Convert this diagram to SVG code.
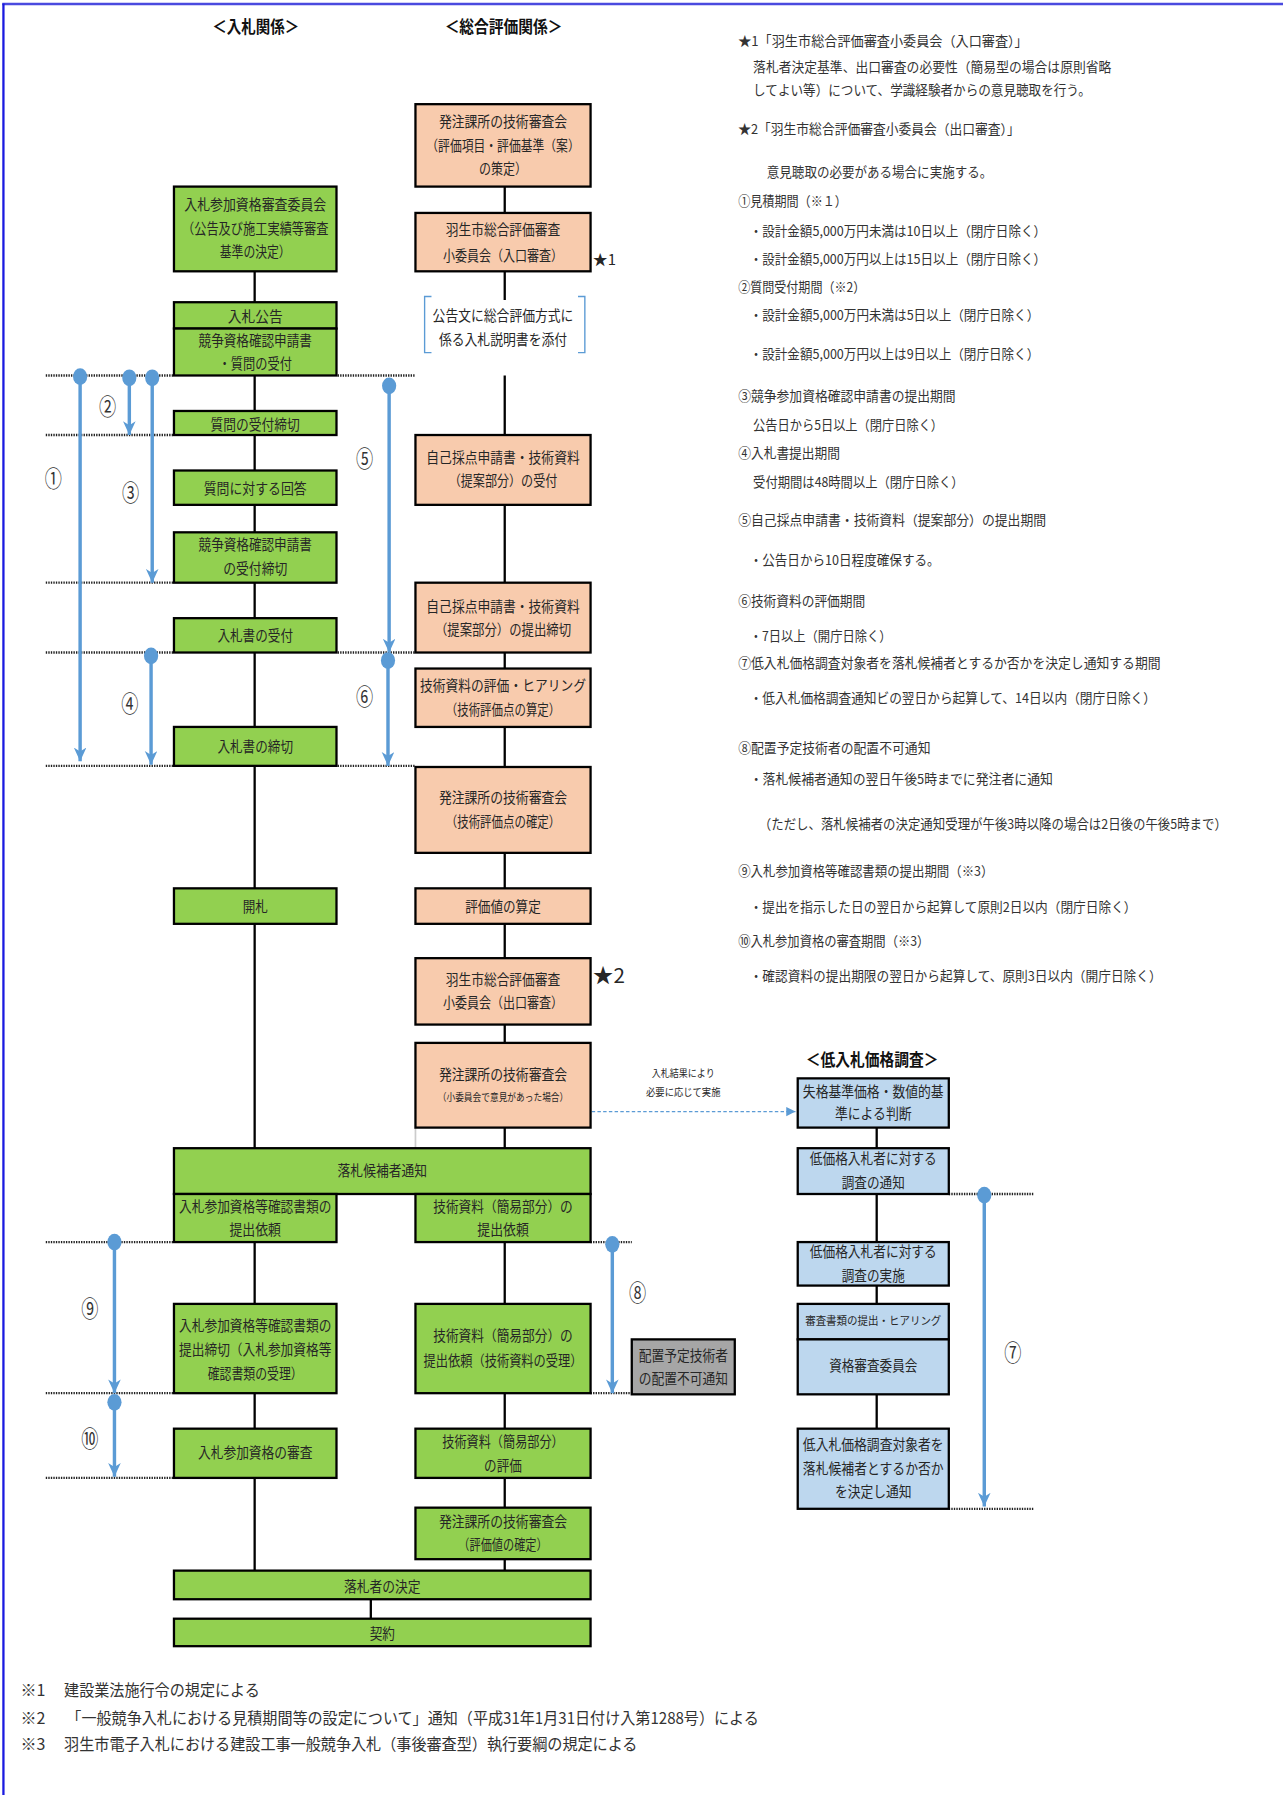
<svg xmlns="http://www.w3.org/2000/svg" width="1283" height="1795" viewBox="0 0 1283 1795">
<style>
.t{font-family:"Noto Sans CJK JP","Noto Sans CJK SC",sans-serif;fill:#262626;dominant-baseline:central}
.bx{font-size:12.5px;text-anchor:middle}
.sm{font-size:9px;text-anchor:middle}
.r{font-size:12px;fill:#333}
.f{font-size:14px;fill:#333}
.h{font-size:14.5px;font-weight:bold;text-anchor:middle;fill:#111}
.n{font-size:20px;text-anchor:middle;fill:#333}
.g{fill:#92D050;stroke:#000;stroke-width:2}
.o{fill:#F8CBAD;stroke:#000;stroke-width:2}
.b{fill:#BDD7EE;stroke:#000;stroke-width:2}
.k{fill:#A6A6A6;stroke:#000;stroke-width:2}
.ln{stroke:#000;stroke-width:2;fill:none}
.dot{stroke:#222;stroke-width:2;stroke-dasharray:1.2 1;fill:none}
.ar{stroke:#5B9BD5;stroke-width:3;fill:none;marker-start:url(#st);marker-end:url(#ah)}
.br{stroke:#5B9BD5;stroke-width:1.2;fill:none}
</style>
<defs>
<marker id="ah" markerUnits="userSpaceOnUse" markerWidth="13" markerHeight="12" refX="12" refY="5.5" orient="auto"><path d="M0,0 L12,5.5 L0,11 L3.5,5.5 z" fill="#5B9BD5"/></marker>
<marker id="st" markerUnits="userSpaceOnUse" viewBox="-8 -8 16 16" markerWidth="16" markerHeight="16" refX="0" refY="0" orient="auto"><ellipse cx="0" cy="0" rx="7.3" ry="6.2" fill="#5B9BD5"/></marker>
<marker id="ah2" markerUnits="userSpaceOnUse" markerWidth="9" markerHeight="9" refX="8" refY="4" orient="auto"><path d="M0,0 L8,4 L0,8 z" fill="#5B9BD5"/></marker>
</defs>
<rect x="0" y="0" width="1283" height="1795" fill="#fff"/>
<g transform="scale(1.14451 1.14477)">
<g id="frame">
<line x1="2" y1="3.5" x2="1122" y2="3.5" stroke="#4a4adf" stroke-width="2"/>
<line x1="3" y1="3" x2="3" y2="1568" stroke="#1a1ae0" stroke-width="2"/>
</g>
<g id="connectors">
<path class="dot" d="M40,328H152 M295,328H363 M40,380H152 M40,509H152 M40,570H152 M295,570H363 M40,669H152 M295,669H363 M40,1085H152 M516,1085H552 M40,1217H152 M516,1217H552 M40,1291H152 M829,1043H903 M829,1318H903"/>
<path class="ln" d="M222.5,237V264 M222.5,328V359 M222.5,380V411 M222.5,441V465 M222.5,509V540 M222.5,570V635 M222.5,669V776 M222.5,807V1003 M222.5,1085V1139 M222.5,1217V1248 M222.5,1291V1372 M441,163V186 M441,237V262 M441,328V380 M441,441V509 M441,570V584 M441,635V670 M441,745V776 M441,807V837 M441,895V911 M441,985V1003 M441,1085V1139 M441,1217V1248 M441,1291V1317 M441,1362V1372 M324,1397V1414 M766,985V1003 M766,1043V1085 M766,1123V1139 M766,1218V1248"/>
<line x1="363" y1="985" x2="363" y2="1003" stroke="#ccc" stroke-width="1.5"/>
<path class="br" d="M377,259H371V308H377 M505,259H511V308H505"/>
<line x1="517" y1="971" x2="695" y2="971" stroke="#5B9BD5" stroke-width="1.2" stroke-dasharray="3 2" marker-end="url(#ah2)"/>
<line class="ar" x1="70" y1="329" x2="70" y2="665"/>
<line class="ar" x1="113" y1="330" x2="113" y2="380"/>
<line class="ar" x1="133" y1="330" x2="133" y2="509"/>
<line class="ar" x1="340" y1="337" x2="340" y2="570"/>
<line class="ar" x1="132" y1="573" x2="132" y2="668"/>
<line class="ar" x1="339" y1="577" x2="339" y2="669"/>
<line class="ar" x1="100" y1="1085" x2="100" y2="1217"/>
<line class="ar" x1="100" y1="1225" x2="100" y2="1290"/>
<line class="ar" x1="535" y1="1087" x2="535" y2="1217"/>
<line class="ar" x1="860" y1="1044" x2="860" y2="1316"/>
<text class="t n" x="46.5" y="417" textLength="15" lengthAdjust="spacingAndGlyphs">①</text>
<text class="t n" x="94" y="354" textLength="15" lengthAdjust="spacingAndGlyphs">②</text>
<text class="t n" x="114" y="429" textLength="15" lengthAdjust="spacingAndGlyphs">③</text>
<text class="t n" x="113.5" y="613" textLength="15" lengthAdjust="spacingAndGlyphs">④</text>
<text class="t n" x="318.5" y="399.5" textLength="15" lengthAdjust="spacingAndGlyphs">⑤</text>
<text class="t n" x="318.5" y="607" textLength="15" lengthAdjust="spacingAndGlyphs">⑥</text>
<text class="t n" x="885" y="1180" textLength="15" lengthAdjust="spacingAndGlyphs">⑦</text>
<text class="t n" x="557" y="1128" textLength="15" lengthAdjust="spacingAndGlyphs">⑧</text>
<text class="t n" x="78.5" y="1141.5" textLength="15" lengthAdjust="spacingAndGlyphs">⑨</text>
<text class="t n" x="78.5" y="1255" textLength="15" lengthAdjust="spacingAndGlyphs">⑩</text>
<text class="t" x="597" y="937.5" font-size="8.5" text-anchor="middle" fill="#444" textLength="55" lengthAdjust="spacingAndGlyphs">入札結果により</text>
<text class="t" x="597" y="954" font-size="8.5" text-anchor="middle" fill="#444" textLength="65" lengthAdjust="spacingAndGlyphs">必要に応じて実施</text>
</g>
<g id="titles">
<text class="t h" x="223.5" y="23" textLength="76" lengthAdjust="spacingAndGlyphs">＜入札関係＞</text>
<text class="t h" x="440" y="23" textLength="103" lengthAdjust="spacingAndGlyphs">＜総合評価関係＞</text>
<text class="t h" x="762" y="925" textLength="116" lengthAdjust="spacingAndGlyphs">＜低入札価格調査＞</text>
</g>
<g id="n-shikaku-iinkai"><rect class="g" x="152" y="163" width="142" height="74"/>
<text class="t bx" x="223" y="178" textLength="124" lengthAdjust="spacingAndGlyphs">入札参加資格審査委員会</text>
<text class="t bx" x="223" y="199" textLength="128" lengthAdjust="spacingAndGlyphs">（公告及び施工実績等審査</text>
<text class="t bx" x="223" y="219" textLength="62" lengthAdjust="spacingAndGlyphs">基準の決定）</text></g>
<g id="n-koukoku"><rect class="g" x="152" y="264" width="142" height="23"/><rect class="g" x="152" y="287" width="142" height="41"/>
<text class="t bx" x="223" y="275.5" textLength="48" lengthAdjust="spacingAndGlyphs">入札公告</text>
<text class="t bx" x="223" y="297" textLength="99" lengthAdjust="spacingAndGlyphs">競争資格確認申請書</text>
<text class="t bx" x="223" y="317" textLength="64" lengthAdjust="spacingAndGlyphs">・質問の受付</text></g>
<g id="n-shitsumon-shimekiri"><rect class="g" x="152" y="359" width="142" height="21"/>
<text class="t bx" x="223" y="370" textLength="78" lengthAdjust="spacingAndGlyphs">質問の受付締切</text></g>
<g id="n-kaitou"><rect class="g" x="152" y="411" width="142" height="30"/>
<text class="t bx" x="223" y="426" textLength="90" lengthAdjust="spacingAndGlyphs">質問に対する回答</text></g>
<g id="n-shinsei-shimekiri"><rect class="g" x="152" y="465" width="142" height="44"/>
<text class="t bx" x="223" y="475" textLength="99" lengthAdjust="spacingAndGlyphs">競争資格確認申請書</text>
<text class="t bx" x="223" y="495.5" textLength="56" lengthAdjust="spacingAndGlyphs">の受付締切</text></g>
<g id="n-nyusatsusho-uketsuke"><rect class="g" x="152" y="540" width="142" height="30"/>
<text class="t bx" x="223" y="554" textLength="66" lengthAdjust="spacingAndGlyphs">入札書の受付</text></g>
<g id="n-nyusatsusho-shimekiri"><rect class="g" x="152" y="635" width="142" height="34"/>
<text class="t bx" x="223" y="651" textLength="66" lengthAdjust="spacingAndGlyphs">入札書の締切</text></g>
<g id="n-kaisatsu"><rect class="g" x="152" y="776" width="142" height="31"/>
<text class="t bx" x="223" y="791" textLength="22" lengthAdjust="spacingAndGlyphs">開札</text></g>
<g id="n-kouhosha-tsuchi"><rect class="g" x="152" y="1003" width="364" height="40"/>
<text class="t bx" x="334" y="1022" textLength="78" lengthAdjust="spacingAndGlyphs">落札候補者通知</text></g>
<g id="n-kakunin-irai"><rect class="g" x="152" y="1043" width="142" height="42"/>
<text class="t bx" x="223" y="1053" textLength="133" lengthAdjust="spacingAndGlyphs">入札参加資格等確認書類の</text>
<text class="t bx" x="223" y="1073" textLength="45" lengthAdjust="spacingAndGlyphs">提出依頼</text></g>
<g id="n-kan-i-irai"><rect class="g" x="363" y="1043" width="153" height="42"/>
<text class="t bx" x="439.5" y="1053" textLength="122" lengthAdjust="spacingAndGlyphs">技術資料（簡易部分）の</text>
<text class="t bx" x="439.5" y="1073" textLength="45" lengthAdjust="spacingAndGlyphs">提出依頼</text></g>
<g id="n-kakunin-shimekiri"><rect class="g" x="152" y="1139" width="142" height="78"/>
<text class="t bx" x="223" y="1157" textLength="133" lengthAdjust="spacingAndGlyphs">入札参加資格等確認書類の</text>
<text class="t bx" x="223" y="1178" textLength="133" lengthAdjust="spacingAndGlyphs">提出締切（入札参加資格等</text>
<text class="t bx" x="223" y="1199" textLength="83" lengthAdjust="spacingAndGlyphs">確認書類の受理）</text></g>
<g id="n-kan-i-juri"><rect class="g" x="363" y="1139" width="153" height="78"/>
<text class="t bx" x="439.5" y="1166" textLength="122" lengthAdjust="spacingAndGlyphs">技術資料（簡易部分）の</text>
<text class="t bx" x="439.5" y="1188" textLength="139" lengthAdjust="spacingAndGlyphs">提出依頼（技術資料の受理）</text></g>
<g id="n-haichi-fuka"><rect class="k" x="552" y="1170" width="90" height="48"/>
<text class="t bx" x="597" y="1183" textLength="78" lengthAdjust="spacingAndGlyphs">配置予定技術者</text>
<text class="t bx" x="597" y="1203" textLength="78" lengthAdjust="spacingAndGlyphs">の配置不可通知</text></g>
<g id="n-shikaku-shinsa"><rect class="g" x="152" y="1248" width="142" height="43"/>
<text class="t bx" x="223" y="1268" textLength="100" lengthAdjust="spacingAndGlyphs">入札参加資格の審査</text></g>
<g id="n-kan-i-hyouka"><rect class="g" x="363" y="1248" width="153" height="43"/>
<text class="t bx" x="439.5" y="1258" textLength="106" lengthAdjust="spacingAndGlyphs">技術資料（簡易部分）</text>
<text class="t bx" x="439.5" y="1279" textLength="33" lengthAdjust="spacingAndGlyphs">の評価</text></g>
<g id="n-hyoukachi-kakutei"><rect class="g" x="363" y="1317" width="153" height="45"/>
<text class="t bx" x="439.5" y="1328" textLength="112" lengthAdjust="spacingAndGlyphs">発注課所の技術審査会</text>
<text class="t bx" x="439.5" y="1348" textLength="78" lengthAdjust="spacingAndGlyphs">（評価値の確定）</text></g>
<g id="n-rakusatsusha"><rect class="g" x="152" y="1372" width="364" height="25"/>
<text class="t bx" x="334" y="1385" textLength="67" lengthAdjust="spacingAndGlyphs">落札者の決定</text></g>
<g id="n-keiyaku"><rect class="g" x="152" y="1414" width="364" height="24"/>
<text class="t bx" x="334" y="1426" textLength="22" lengthAdjust="spacingAndGlyphs">契約</text></g>
<g id="n-gijutsu-sakutei"><rect class="o" x="363" y="91" width="153" height="72"/>
<text class="t bx" x="439.5" y="105" textLength="112" lengthAdjust="spacingAndGlyphs">発注課所の技術審査会</text>
<text class="t bx" x="439.5" y="126" textLength="134" lengthAdjust="spacingAndGlyphs">（評価項目・評価基準（案）</text>
<text class="t bx" x="439.5" y="146" textLength="42" lengthAdjust="spacingAndGlyphs">の策定）</text></g>
<g id="n-iriguchi"><rect class="o" x="363" y="186" width="153" height="51"/>
<text class="t bx" x="439.5" y="200" textLength="100" lengthAdjust="spacingAndGlyphs">羽生市総合評価審査</text>
<text class="t bx" x="439.5" y="222" textLength="105" lengthAdjust="spacingAndGlyphs">小委員会（入口審査）</text>
<text class="t" x="518" y="226" font-size="13" fill="#111">★1</text></g>
<g id="n-setsumeisho">
<text class="t bx" x="439.5" y="274.5" fill="#404040" textLength="123" lengthAdjust="spacingAndGlyphs">公告文に総合評価方式に</text>
<text class="t bx" x="439.5" y="296" fill="#404040" textLength="112" lengthAdjust="spacingAndGlyphs">係る入札説明書を添付</text></g>
<g id="n-jiko-uketsuke"><rect class="o" x="363" y="380" width="153" height="61"/>
<text class="t bx" x="439.5" y="399" textLength="134" lengthAdjust="spacingAndGlyphs">自己採点申請書・技術資料</text>
<text class="t bx" x="439.5" y="419" textLength="95" lengthAdjust="spacingAndGlyphs">（提案部分）の受付</text></g>
<g id="n-jiko-shimekiri"><rect class="o" x="363" y="509" width="153" height="61"/>
<text class="t bx" x="439.5" y="529" textLength="134" lengthAdjust="spacingAndGlyphs">自己採点申請書・技術資料</text>
<text class="t bx" x="439.5" y="549" textLength="119" lengthAdjust="spacingAndGlyphs">（提案部分）の提出締切</text></g>
<g id="n-hearing"><rect class="o" x="363" y="584" width="153" height="51"/>
<text class="t bx" x="439.5" y="598" textLength="145" lengthAdjust="spacingAndGlyphs">技術資料の評価・ヒアリング</text>
<text class="t bx" x="439.5" y="619" textLength="100" lengthAdjust="spacingAndGlyphs">（技術評価点の算定）</text></g>
<g id="n-gijutsuten-kakutei"><rect class="o" x="363" y="670" width="153" height="75"/>
<text class="t bx" x="439.5" y="695.5" textLength="112" lengthAdjust="spacingAndGlyphs">発注課所の技術審査会</text>
<text class="t bx" x="439.5" y="716.5" textLength="100" lengthAdjust="spacingAndGlyphs">（技術評価点の確定）</text></g>
<g id="n-hyoukachi-santei"><rect class="o" x="363" y="776" width="153" height="31"/>
<text class="t bx" x="439.5" y="791" textLength="66" lengthAdjust="spacingAndGlyphs">評価値の算定</text></g>
<g id="n-deguchi"><rect class="o" x="363" y="837" width="153" height="58"/>
<text class="t bx" x="439.5" y="855" textLength="100" lengthAdjust="spacingAndGlyphs">羽生市総合評価審査</text>
<text class="t bx" x="439.5" y="875" textLength="105" lengthAdjust="spacingAndGlyphs">小委員会（出口審査）</text>
<text class="t" x="518" y="851" font-size="18" fill="#111">★2</text></g>
<g id="n-iken"><rect class="o" x="363" y="911" width="153" height="74"/>
<text class="t bx" x="439.5" y="938" textLength="112" lengthAdjust="spacingAndGlyphs">発注課所の技術審査会</text>
<text class="t sm" x="439.5" y="957.5" textLength="114" lengthAdjust="spacingAndGlyphs">（小委員会で意見があった場合）</text></g>
<g id="n-shikkaku"><rect class="b" x="697" y="942" width="132" height="43"/>
<text class="t bx" x="763" y="953" textLength="123" lengthAdjust="spacingAndGlyphs">失格基準価格・数値的基</text>
<text class="t bx" x="763" y="972" textLength="67" lengthAdjust="spacingAndGlyphs">準による判断</text></g>
<g id="n-chousa-tsuchi"><rect class="b" x="697" y="1003" width="132" height="40"/>
<text class="t bx" x="763" y="1011.5" textLength="111" lengthAdjust="spacingAndGlyphs">低価格入札者に対する</text>
<text class="t bx" x="763" y="1032.5" textLength="55" lengthAdjust="spacingAndGlyphs">調査の通知</text></g>
<g id="n-chousa-jisshi"><rect class="b" x="697" y="1085" width="132" height="38"/>
<text class="t bx" x="763" y="1092" textLength="111" lengthAdjust="spacingAndGlyphs">低価格入札者に対する</text>
<text class="t bx" x="763" y="1113" textLength="55" lengthAdjust="spacingAndGlyphs">調査の実施</text></g>
<g id="n-shikaku-shinsa-iinkai"><rect class="b" x="697" y="1139" width="132" height="31"/><rect class="b" x="697" y="1170" width="132" height="48"/>
<text class="t" x="763" y="1153" font-size="9.5" text-anchor="middle" textLength="119" lengthAdjust="spacingAndGlyphs">審査書類の提出・ヒアリング</text>
<text class="t bx" x="763" y="1192" textLength="77" lengthAdjust="spacingAndGlyphs">資格審査委員会</text></g>
<g id="n-kettei-tsuchi"><rect class="b" x="697" y="1248" width="132" height="70"/>
<text class="t bx" x="763" y="1261" textLength="123" lengthAdjust="spacingAndGlyphs">低入札価格調査対象者を</text>
<text class="t bx" x="763" y="1281.5" textLength="123" lengthAdjust="spacingAndGlyphs">落札候補者とするか否か</text>
<text class="t bx" x="763" y="1302" textLength="67" lengthAdjust="spacingAndGlyphs">を決定し通知</text></g>
<g id="notes">
<text class="t r" x="645" y="35" textLength="253" lengthAdjust="spacingAndGlyphs">★1「羽生市総合評価審査小委員会（入口審査）」</text>
<text class="t r" x="658" y="57.5" textLength="313" lengthAdjust="spacingAndGlyphs">落札者決定基準、出口審査の必要性（簡易型の場合は原則省略</text>
<text class="t r" x="658" y="78" textLength="295" lengthAdjust="spacingAndGlyphs">してよい等）について、学識経験者からの意見聴取を行う。</text>
<text class="t r" x="645" y="112" textLength="246" lengthAdjust="spacingAndGlyphs">★2「羽生市総合評価審査小委員会（出口審査）」</text>
<text class="t r" x="670" y="149" textLength="197" lengthAdjust="spacingAndGlyphs">意見聴取の必要がある場合に実施する。</text>
<text class="t r" x="645" y="175" textLength="95" lengthAdjust="spacingAndGlyphs">①見積期間（※１）</text>
<text class="t r" x="655" y="201" textLength="259" lengthAdjust="spacingAndGlyphs">・設計金額5,000万円未満は10日以上（閉庁日除く）</text>
<text class="t r" x="655" y="225.5" textLength="259" lengthAdjust="spacingAndGlyphs">・設計金額5,000万円以上は15日以上（閉庁日除く）</text>
<text class="t r" x="645" y="250" textLength="111" lengthAdjust="spacingAndGlyphs">②質問受付期間（※2）</text>
<text class="t r" x="655" y="274.5" textLength="253" lengthAdjust="spacingAndGlyphs">・設計金額5,000万円未満は5日以上（閉庁日除く）</text>
<text class="t r" x="655" y="308" textLength="253" lengthAdjust="spacingAndGlyphs">・設計金額5,000万円以上は9日以上（閉庁日除く）</text>
<text class="t r" x="645" y="345" textLength="190" lengthAdjust="spacingAndGlyphs">③競争参加資格確認申請書の提出期間</text>
<text class="t r" x="658" y="370" textLength="166" lengthAdjust="spacingAndGlyphs">公告日から5日以上（閉庁日除く）</text>
<text class="t r" x="645" y="395" textLength="89" lengthAdjust="spacingAndGlyphs">④入札書提出期間</text>
<text class="t r" x="658" y="420.5" textLength="184" lengthAdjust="spacingAndGlyphs">受付期間は48時間以上（閉庁日除く）</text>
<text class="t r" x="645" y="453" textLength="269" lengthAdjust="spacingAndGlyphs">⑤自己採点申請書・技術資料（提案部分）の提出期間</text>
<text class="t r" x="655" y="488.5" textLength="166" lengthAdjust="spacingAndGlyphs">・公告日から10日程度確保する。</text>
<text class="t r" x="645" y="524" textLength="111" lengthAdjust="spacingAndGlyphs">⑥技術資料の評価期間</text>
<text class="t r" x="655" y="555" textLength="124" lengthAdjust="spacingAndGlyphs">・7日以上（開庁日除く）</text>
<text class="t r" x="645" y="578" textLength="369" lengthAdjust="spacingAndGlyphs">⑦低入札価格調査対象者を落札候補者とするか否かを決定し通知する期間</text>
<text class="t r" x="655" y="609" textLength="355" lengthAdjust="spacingAndGlyphs">・低入札価格調査通知ビの翌日から起算して、14日以内（閉庁日除く）</text>
<text class="t r" x="645" y="652.5" textLength="168" lengthAdjust="spacingAndGlyphs">⑧配置予定技術者の配置不可通知</text>
<text class="t r" x="655" y="680" textLength="265" lengthAdjust="spacingAndGlyphs">・落札候補者通知の翌日午後5時までに発注者に通知</text>
<text class="t r" x="663" y="719" textLength="409" lengthAdjust="spacingAndGlyphs">（ただし、落札候補者の決定通知受理が午後3時以降の場合は2日後の午後5時まで）</text>
<text class="t r" x="645" y="760" textLength="223" lengthAdjust="spacingAndGlyphs">⑨入札参加資格等確認書類の提出期間（※3）</text>
<text class="t r" x="655" y="791" textLength="338" lengthAdjust="spacingAndGlyphs">・提出を指示した日の翌日から起算して原則2日以内（閉庁日除く）</text>
<text class="t r" x="645" y="821" textLength="167" lengthAdjust="spacingAndGlyphs">⑩入札参加資格の審査期間（※3）</text>
<text class="t r" x="655" y="852" textLength="360" lengthAdjust="spacingAndGlyphs">・確認資料の提出期限の翌日から起算して、原則3日以内（開庁日除く）</text>
</g>
<g id="footnotes">
<text class="t f" x="18" y="1475">※1</text>
<text class="t f" x="56" y="1475" textLength="171" lengthAdjust="spacingAndGlyphs">建設業法施行令の規定による</text>
<text class="t f" x="18" y="1500">※2</text>
<text class="t f" x="58" y="1500" textLength="605" lengthAdjust="spacingAndGlyphs">「一般競争入札における見積期間等の設定について」通知（平成31年1月31日付け入第1288号）による</text>
<text class="t f" x="18" y="1523">※3</text>
<text class="t f" x="56" y="1523" textLength="501" lengthAdjust="spacingAndGlyphs">羽生市電子入札における建設工事一般競争入札（事後審査型）執行要綱の規定による</text>
</g>
</g>
</svg>
